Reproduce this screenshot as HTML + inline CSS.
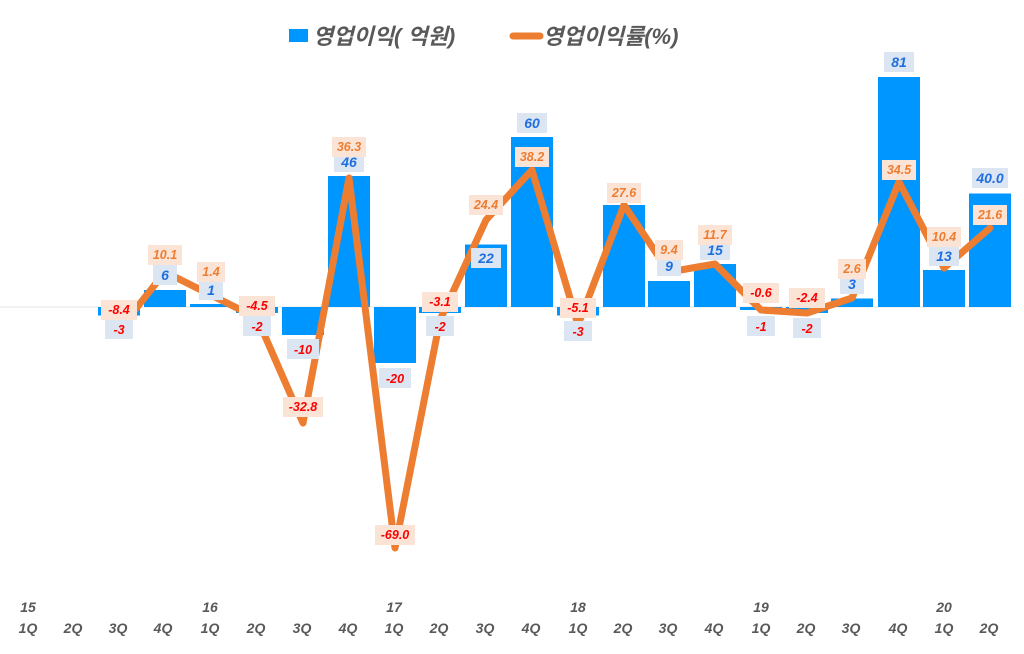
<!DOCTYPE html>
<html><head><meta charset="utf-8"><style>
body{margin:0;background:#fff}
svg text{font-family:"Liberation Sans","Noto Sans CJK KR",sans-serif;font-style:italic;font-weight:bold}
.ax{fill:#595959;font-size:14px}
.bl{fill:#1f6fe0;font-size:14px}
.rd{fill:#ff0000;font-size:12.5px}
.or{fill:#ED7D31;font-size:12.5px}
.bb{fill:#dce6f2}
.ob{fill:#fbe3d6}
</style></head><body>
<svg width="1024" height="649" viewBox="0 0 1024 649" xmlns="http://www.w3.org/2000/svg">
<rect x="289" y="29" width="19" height="13" fill="#0096FF"/>
<text x="313" y="44" style="font-size:22px;fill:#595959">영업이익( 억원)</text>
<line x1="513" y1="36" x2="540" y2="36" stroke="#ED7D31" stroke-width="7" stroke-linecap="round"/>
<text x="543" y="44" style="font-size:22px;fill:#595959">영업이익률(%)</text>
<line x1="0" y1="307" x2="1014" y2="307" stroke="#e6e6e6" stroke-width="1"/>
<g fill="#0096FF">
<rect x="98" y="307" width="42" height="8.5"/>
<rect x="144" y="290" width="42" height="17"/>
<rect x="190" y="304" width="42" height="3"/>
<rect x="236" y="307" width="42" height="6"/>
<rect x="282" y="307" width="42" height="28"/>
<rect x="328" y="176" width="42" height="131"/>
<rect x="374" y="307" width="42" height="56"/>
<rect x="419" y="307" width="42" height="6"/>
<rect x="465" y="244.5" width="42" height="62.5"/>
<rect x="511" y="137" width="42" height="170"/>
<rect x="557" y="307" width="42" height="8.5"/>
<rect x="603" y="205" width="42" height="102"/>
<rect x="648" y="281" width="42" height="26"/>
<rect x="694" y="264" width="42" height="43"/>
<rect x="740" y="307" width="42" height="3"/>
<rect x="786" y="307" width="42" height="6"/>
<rect x="831" y="298.5" width="42" height="8.5"/>
<rect x="878" y="77" width="42" height="230"/>
<rect x="923" y="270" width="42" height="37"/>
<rect x="969" y="193.5" width="42" height="113.5"/>
</g>
<polyline fill="none" stroke="#ED7D31" stroke-width="7" stroke-linejoin="round" stroke-linecap="round"
points="119,330 165,272 211,295 257,318 303,423 349,178 395,548 440,320 486,220 532,170 578,325 624,205 669,272 715,264 761,310 807,313 852,298 899,182 944,268 990,228"/>
<g text-anchor="middle">
<rect class="bb" x="105" y="319" width="28" height="20"/><text class="rd" x="119" y="334">-3</text>
<rect class="bb" x="153" y="265" width="24" height="20"/><text class="bl" x="165" y="280">6</text>
<rect class="bb" x="199" y="280" width="24" height="20"/><text class="bl" x="211" y="295">1</text>
<rect class="bb" x="243" y="316" width="28" height="20"/><text class="rd" x="257" y="331">-2</text>
<rect class="bb" x="287" y="339" width="32" height="20"/><text class="rd" x="303" y="354">-10</text>
<rect class="bb" x="334" y="152" width="30" height="20"/><text class="bl" x="349" y="167">46</text>
<rect class="bb" x="379" y="368" width="32" height="20"/><text class="rd" x="395" y="383">-20</text>
<rect class="bb" x="426" y="316" width="28" height="20"/><text class="rd" x="440" y="331">-2</text>
<rect class="bb" x="471" y="248" width="30" height="20"/><text class="bl" x="486" y="263">22</text>
<rect class="bb" x="517" y="113" width="30" height="20"/><text class="bl" x="532" y="128">60</text>
<rect class="bb" x="564" y="321" width="28" height="20"/><text class="rd" x="578" y="336">-3</text>
<rect class="bb" x="657" y="256" width="24" height="20"/><text class="bl" x="669" y="271">9</text>
<rect class="bb" x="700" y="240" width="30" height="20"/><text class="bl" x="715" y="255">15</text>
<rect class="bb" x="747" y="316" width="28" height="20"/><text class="rd" x="761" y="331">-1</text>
<rect class="bb" x="793" y="318" width="28" height="20"/><text class="rd" x="807" y="333">-2</text>
<rect class="bb" x="840" y="274" width="24" height="20"/><text class="bl" x="852" y="289">3</text>
<rect class="bb" x="884" y="52" width="30" height="20"/><text class="bl" x="899" y="67">81</text>
<rect class="bb" x="929" y="246" width="30" height="20"/><text class="bl" x="944" y="261">13</text>
<rect class="bb" x="972" y="168" width="36" height="20"/><text class="bl" x="990" y="183">40.0</text>
</g>
<g text-anchor="middle">
<rect class="ob" x="101" y="300" width="36" height="20"/><text class="rd" x="119" y="314">-8.4</text>
<rect class="ob" x="148" y="245" width="34" height="20"/><text class="or" x="165" y="259">10.1</text>
<rect class="ob" x="197" y="262" width="28" height="20"/><text class="or" x="211" y="276">1.4</text>
<rect class="ob" x="239" y="296" width="36" height="20"/><text class="rd" x="257" y="310">-4.5</text>
<rect class="ob" x="283" y="397" width="40" height="20"/><text class="rd" x="303" y="411">-32.8</text>
<rect class="ob" x="332" y="137" width="34" height="20"/><text class="or" x="349" y="151">36.3</text>
<rect class="ob" x="375" y="525" width="40" height="20"/><text class="rd" x="395" y="539">-69.0</text>
<rect class="ob" x="422" y="292" width="36" height="20"/><text class="rd" x="440" y="306">-3.1</text>
<rect class="ob" x="469" y="195" width="34" height="20"/><text class="or" x="486" y="209">24.4</text>
<rect class="ob" x="515" y="147" width="34" height="20"/><text class="or" x="532" y="161">38.2</text>
<rect class="ob" x="560" y="298" width="36" height="20"/><text class="rd" x="578" y="312">-5.1</text>
<rect class="ob" x="607" y="183" width="34" height="20"/><text class="or" x="624" y="197">27.6</text>
<rect class="ob" x="655" y="240" width="28" height="20"/><text class="or" x="669" y="254">9.4</text>
<rect class="ob" x="698" y="225" width="34" height="20"/><text class="or" x="715" y="239">11.7</text>
<rect class="ob" x="743" y="283" width="36" height="20"/><text class="rd" x="761" y="297">-0.6</text>
<rect class="ob" x="789" y="288" width="36" height="20"/><text class="rd" x="807" y="302">-2.4</text>
<rect class="ob" x="838" y="259" width="28" height="20"/><text class="or" x="852" y="273">2.6</text>
<rect class="ob" x="882" y="160" width="34" height="20"/><text class="or" x="899" y="174">34.5</text>
<rect class="ob" x="927" y="227" width="34" height="20"/><text class="or" x="944" y="241">10.4</text>
<rect class="ob" x="973" y="205" width="34" height="20"/><text class="or" x="990" y="219">21.6</text>
</g>
<g class="ax" text-anchor="middle">
<text x="28" y="612">15</text><text x="210" y="612">16</text><text x="394" y="612">17</text><text x="578" y="612">18</text><text x="761" y="612">19</text><text x="944" y="612">20</text>
<text x="28" y="633">1Q</text><text x="73" y="633">2Q</text><text x="118" y="633">3Q</text><text x="163" y="633">4Q</text>
<text x="210" y="633">1Q</text><text x="256" y="633">2Q</text><text x="302" y="633">3Q</text><text x="348" y="633">4Q</text>
<text x="394" y="633">1Q</text><text x="439" y="633">2Q</text><text x="485" y="633">3Q</text><text x="531" y="633">4Q</text>
<text x="578" y="633">1Q</text><text x="623" y="633">2Q</text><text x="668" y="633">3Q</text><text x="714" y="633">4Q</text>
<text x="761" y="633">1Q</text><text x="806" y="633">2Q</text><text x="851" y="633">3Q</text><text x="898" y="633">4Q</text>
<text x="944" y="633">1Q</text><text x="989" y="633">2Q</text>
</g>
</svg>
</body></html>
